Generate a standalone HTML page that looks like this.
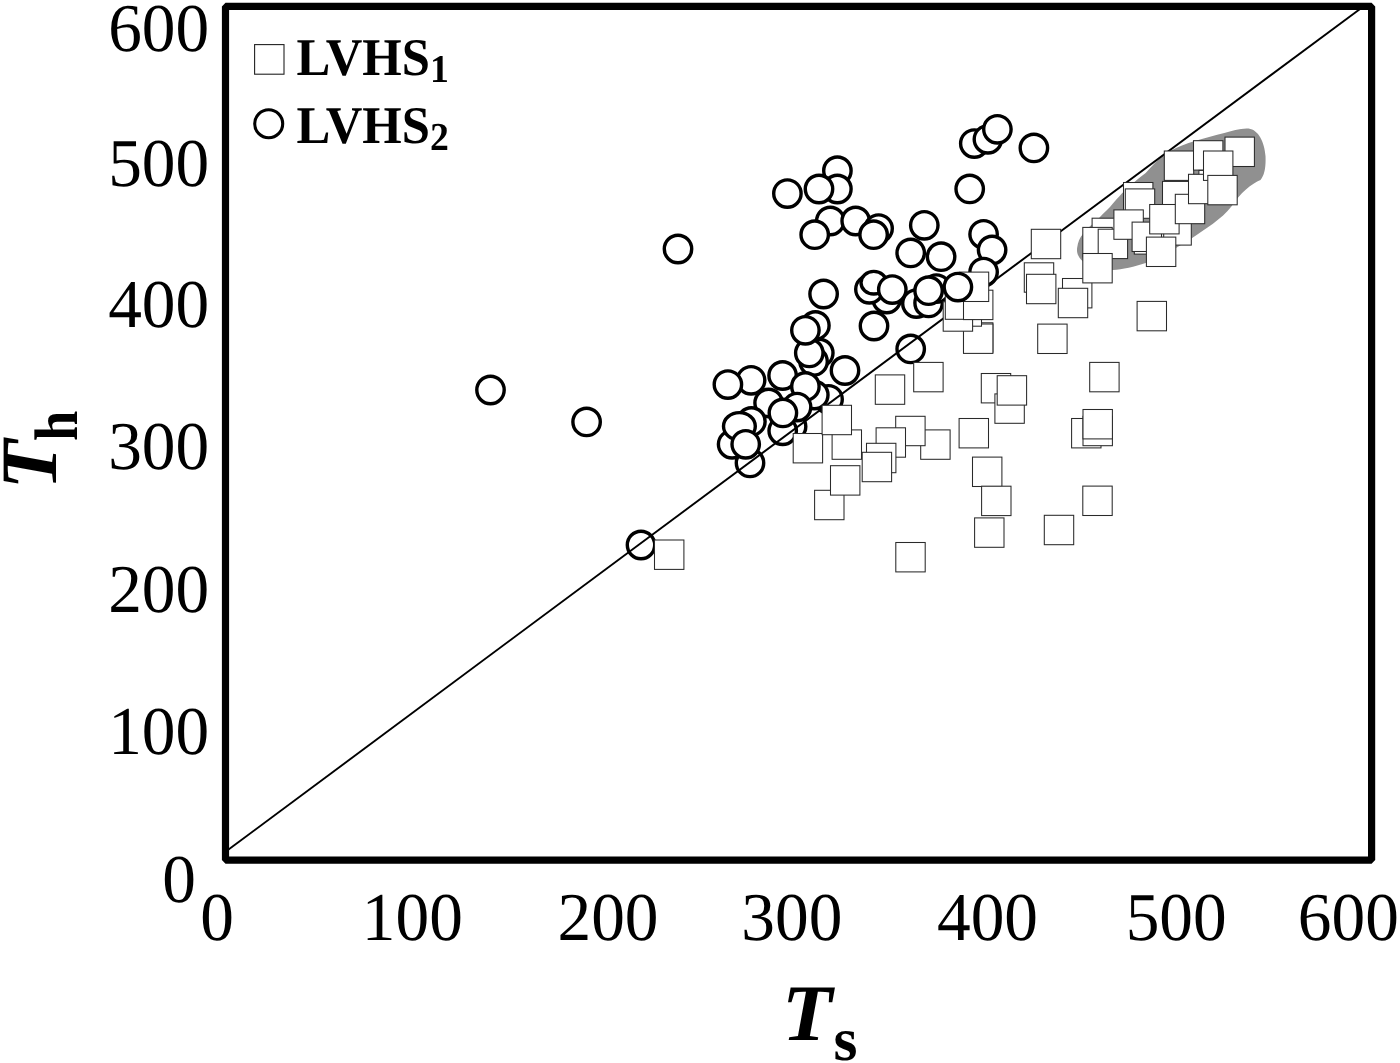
<!DOCTYPE html>
<html lang="en"><head><meta charset="utf-8"><title>Th vs Ts</title>
<style>
html,body{margin:0;padding:0;background:#fff;}
body{width:1400px;height:1063px;overflow:hidden;}
svg{display:block;}
text{font-family:"Liberation Serif",serif;fill:#000;text-rendering:geometricPrecision;}
.tick{font-size:68.5px;}
.leg{font-size:53px;font-weight:bold;}
.sub{font-size:39.5px;font-weight:bold;}
.ttl{font-size:80px;font-weight:bold;font-style:italic;}
.tsub{font-size:61.5px;font-weight:bold;font-style:normal;}
.c{fill:#fff;stroke:#000;stroke-width:3.4;}
.s{fill:#fff;stroke:#2a2a2a;stroke-width:1.05;}
</style></head><body>
<svg width="1400" height="1063" viewBox="0 0 1400 1063">
<rect x="0" y="0" width="1400" height="1063" fill="#fff"/>
<path d="M1248.6,128.6 C1258.5,130 1264.5,142 1265.5,156 C1266,167 1264.5,175 1260.5,180 C1252,183.5 1240,193 1231.4,206.5 C1222,219 1205,229 1191.4,238.6 C1178,247.5 1160,257 1145.7,262.9 C1135,266.5 1122,269.5 1112.9,270 C1098,270.5 1088,266 1082.9,261.4 C1078,257 1076.5,253 1077.1,248 C1078,242 1079.5,238 1082.9,234 C1086,229.5 1090,226 1095.7,221.4 C1100,217 1105,212 1110,207.1 C1116,200 1123,192 1128.6,187.1 C1134,182 1140,177 1145.7,172.9 C1152,166 1157,160.5 1162.9,155.7 C1169,151.5 1175,148 1181.4,145.7 C1186,143.8 1191,142.2 1195.7,140.7 C1205,138 1215,135 1224.3,132.9 C1232,131 1241,128 1248.6,128.6 Z" fill="#909090"/>
<g class="c">
<circle cx="490.5" cy="390.0" r="13.7"/>
<circle cx="586.6" cy="421.9" r="13.7"/>
<circle cx="678.0" cy="249.0" r="13.7"/>
<circle cx="641.0" cy="545.0" r="13.7"/>
<circle cx="837.4" cy="170.7" r="13.7"/>
<circle cx="837.4" cy="189.0" r="13.7"/>
<circle cx="819.0" cy="189.0" r="13.7"/>
<circle cx="787.4" cy="193.6" r="13.7"/>
<circle cx="830.3" cy="221.0" r="13.7"/>
<circle cx="855.7" cy="221.0" r="13.7"/>
<circle cx="814.7" cy="234.7" r="13.7"/>
<circle cx="878.6" cy="228.6" r="13.7"/>
<circle cx="873.6" cy="234.7" r="13.7"/>
<circle cx="974.3" cy="143.6" r="13.7"/>
<circle cx="987.9" cy="139.3" r="13.7"/>
<circle cx="997.4" cy="129.3" r="13.7"/>
<circle cx="1033.9" cy="147.9" r="13.7"/>
<circle cx="969.7" cy="188.9" r="13.7"/>
<circle cx="924.3" cy="225.3" r="13.7"/>
<circle cx="983.6" cy="234.3" r="13.7"/>
<circle cx="992.1" cy="250.0" r="13.7"/>
<circle cx="910.7" cy="252.9" r="13.7"/>
<circle cx="941.1" cy="256.7" r="13.7"/>
<circle cx="823.6" cy="294.0" r="13.7"/>
<circle cx="886.7" cy="299.0" r="13.7"/>
<circle cx="869.4" cy="289.3" r="13.7"/>
<ellipse cx="873.8" cy="282.7" rx="12.8" ry="11.3"/>
<circle cx="892.3" cy="289.6" r="13.7"/>
<circle cx="874.0" cy="326.0" r="13.7"/>
<circle cx="819.3" cy="352.9" r="13.7"/>
<circle cx="813.6" cy="361.4" r="13.7"/>
<circle cx="809.3" cy="352.9" r="13.7"/>
<circle cx="815.4" cy="325.4" r="13.7"/>
<circle cx="805.4" cy="330.3" r="13.7"/>
<circle cx="845.0" cy="370.5" r="13.7"/>
<circle cx="782.6" cy="375.5" r="13.7"/>
<circle cx="751.1" cy="380.3" r="13.7"/>
<circle cx="727.9" cy="384.6" r="13.7"/>
<circle cx="828.6" cy="399.3" r="13.7"/>
<circle cx="814.3" cy="395.0" r="13.7"/>
<circle cx="805.4" cy="386.4" r="13.7"/>
<circle cx="768.6" cy="403.0" r="13.7"/>
<circle cx="792.1" cy="426.4" r="13.7"/>
<circle cx="782.7" cy="430.8" r="13.7"/>
<circle cx="797.1" cy="407.1" r="13.7"/>
<circle cx="782.9" cy="412.9" r="13.7"/>
<circle cx="750.0" cy="462.9" r="13.7"/>
<circle cx="732.1" cy="444.3" r="13.7"/>
<circle cx="751.4" cy="421.4" r="13.7"/>
<ellipse cx="739.4" cy="426.3" rx="15.9" ry="13.7"/>
<circle cx="745.7" cy="444.3" r="13.7"/>
<circle cx="983.6" cy="272.1" r="13.7"/>
<circle cx="916.4" cy="303.6" r="13.7"/>
<circle cx="928.6" cy="302.9" r="13.7"/>
<circle cx="936.4" cy="288.6" r="13.7"/>
<circle cx="928.6" cy="290.7" r="13.7"/>
<circle cx="910.7" cy="348.9" r="13.7"/>
</g>
<line x1="225.5" y1="851.8" x2="1363.4" y2="6.4" stroke="#000" stroke-width="1.9"/>
<g class="s">
<rect x="814.6" y="490.3" width="29.4" height="29.4"/>
<rect x="830.5" y="465.7" width="29.4" height="29.4"/>
<rect x="793.2" y="433.5" width="29.4" height="29.4"/>
<rect x="832.1" y="429.9" width="29.4" height="29.4"/>
<rect x="822.1" y="405.3" width="29.4" height="29.4"/>
<rect x="920.7" y="429.9" width="29.4" height="29.4"/>
<rect x="895.7" y="416.3" width="29.4" height="29.4"/>
<rect x="876.1" y="427.8" width="29.4" height="29.4"/>
<rect x="866.5" y="443.3" width="29.4" height="29.4"/>
<rect x="862.2" y="452.3" width="29.4" height="29.4"/>
<rect x="875.3" y="374.9" width="29.4" height="29.4"/>
<rect x="913.7" y="362.4" width="29.4" height="29.4"/>
<rect x="981.3" y="373.5" width="29.4" height="29.4"/>
<rect x="994.9" y="393.9" width="29.4" height="29.4"/>
<rect x="997.2" y="375.7" width="29.4" height="29.4"/>
<rect x="959.1" y="418.5" width="29.4" height="29.4"/>
<rect x="972.5" y="457.1" width="29.4" height="29.4"/>
<rect x="981.6" y="486.2" width="29.4" height="29.4"/>
<rect x="974.6" y="517.9" width="29.4" height="29.4"/>
<rect x="1044.3" y="515.3" width="29.4" height="29.4"/>
<rect x="895.8" y="542.5" width="29.4" height="29.4"/>
<rect x="654.5" y="540.0" width="29.4" height="29.4"/>
<rect x="1071.6" y="418.5" width="29.4" height="29.4"/>
<rect x="1083.0" y="416.3" width="29.4" height="29.4"/>
<rect x="1083.0" y="409.5" width="29.4" height="29.4"/>
<rect x="1082.8" y="486.1" width="29.4" height="29.4"/>
<rect x="1089.7" y="362.4" width="29.4" height="29.4"/>
<rect x="1137.1" y="301.4" width="29.4" height="29.4"/>
<rect x="1037.7" y="324.1" width="29.4" height="29.4"/>
<rect x="963.5" y="322.8" width="29.4" height="29.4"/>
<rect x="963.5" y="324.0" width="29.4" height="29.4"/>
<rect x="952.1" y="296.8" width="29.4" height="29.4"/>
<rect x="943.2" y="301.8" width="29.4" height="29.4"/>
<rect x="945.3" y="289.9" width="29.4" height="29.4"/>
<rect x="963.5" y="290.2" width="29.4" height="29.4"/>
<rect x="959.3" y="272.1" width="29.4" height="29.4"/>
<rect x="1024.3" y="262.8" width="29.4" height="29.4"/>
<rect x="1026.5" y="274.3" width="29.4" height="29.4"/>
<rect x="1031.3" y="229.3" width="29.4" height="29.4"/>
<rect x="1164.3" y="151.0" width="29.4" height="29.4"/>
<rect x="1193.5" y="140.7" width="29.4" height="29.4"/>
<rect x="1225.0" y="137.1" width="29.4" height="29.4"/>
<rect x="1198.9" y="170.4" width="29.4" height="29.4"/>
<rect x="1162.5" y="181.4" width="29.4" height="29.4"/>
<rect x="1123.5" y="182.5" width="29.4" height="29.4"/>
<rect x="1125.3" y="188.9" width="29.4" height="29.4"/>
<rect x="1161.9" y="215.7" width="29.4" height="29.4"/>
<rect x="1092.1" y="218.2" width="29.4" height="29.4"/>
<rect x="1082.8" y="227.4" width="29.4" height="29.4"/>
<rect x="1098.2" y="229.2" width="29.4" height="29.4"/>
<rect x="1113.9" y="209.9" width="29.4" height="29.4"/>
<rect x="1134.3" y="224.7" width="29.4" height="29.4"/>
<rect x="1132.1" y="222.1" width="29.4" height="29.4"/>
<rect x="1149.7" y="204.5" width="29.4" height="29.4"/>
<rect x="1175.3" y="194.3" width="29.4" height="29.4"/>
<rect x="1188.5" y="174.3" width="29.4" height="29.4"/>
<rect x="1203.5" y="151.0" width="29.4" height="29.4"/>
<rect x="1207.8" y="175.4" width="29.4" height="29.4"/>
<rect x="1146.4" y="237.1" width="29.4" height="29.4"/>
<rect x="1062.5" y="278.5" width="29.4" height="29.4"/>
<rect x="1082.8" y="253.5" width="29.4" height="29.4"/>
<rect x="1058.3" y="288.3" width="29.4" height="29.4"/>
</g>
<g class="c">
<circle cx="957.9" cy="287.1" r="13.7"/>
</g>
<rect x="225.5" y="6.4" width="1146.1" height="853.7" fill="none" stroke="#000" stroke-width="7.2" stroke-linejoin="bevel"/>
<rect x="254.6" y="44.6" width="29.4" height="29.6" fill="#fff" stroke="#222" stroke-width="1.1"/>
<circle cx="268.7" cy="123.7" r="14" fill="#fff" stroke="#000" stroke-width="3.1"/>
<text class="leg" transform="translate(296.6,74.9) scale(0.956,1)">LVHS<tspan class="sub" dy="6.6">1</tspan></text>
<text class="leg" transform="translate(296.6,143.2) scale(0.956,1)">LVHS<tspan class="sub" dy="6.9">2</tspan></text>
<text class="tick" text-anchor="end" transform="translate(209.2,50.6) scale(0.983,1)">600</text>
<text class="tick" text-anchor="end" transform="translate(209.2,185.6) scale(0.983,1)">500</text>
<text class="tick" text-anchor="end" transform="translate(209.2,327.1) scale(0.983,1)">400</text>
<text class="tick" text-anchor="end" transform="translate(209.2,469.4) scale(0.983,1)">300</text>
<text class="tick" text-anchor="end" transform="translate(209.2,611.7) scale(0.983,1)">200</text>
<text class="tick" text-anchor="end" transform="translate(209.2,753.5) scale(0.983,1)">100</text>
<text class="tick" text-anchor="end" transform="translate(195.9,902.3) scale(0.983,1)">0</text>
<text class="tick" text-anchor="end" transform="translate(233.8,939.6) scale(0.983,1)">0</text>
<text class="tick" text-anchor="end" transform="translate(462.8,939.6) scale(0.983,1)">100</text>
<text class="tick" text-anchor="end" transform="translate(658.5,939.6) scale(0.983,1)">200</text>
<text class="tick" text-anchor="end" transform="translate(842.3,939.6) scale(0.983,1)">300</text>
<text class="tick" text-anchor="end" transform="translate(1038.0,939.6) scale(0.983,1)">400</text>
<text class="tick" text-anchor="end" transform="translate(1226.7,939.6) scale(0.983,1)">500</text>
<text class="tick" text-anchor="end" transform="translate(1398.8,939.6) scale(0.983,1)">600</text>
<text class="ttl" transform="translate(782,1039.8) scale(1.028,1)">T</text>
<text class="tsub" transform="translate(833.5,1059.5) scale(1,1)">s</text>
<text class="ttl" transform="translate(56,489.6) rotate(-90) scale(1.017,1)">T</text>
<text class="tsub" transform="translate(76.8,441) rotate(-90) scale(0.885,1)">h</text>
</svg>
</body></html>
